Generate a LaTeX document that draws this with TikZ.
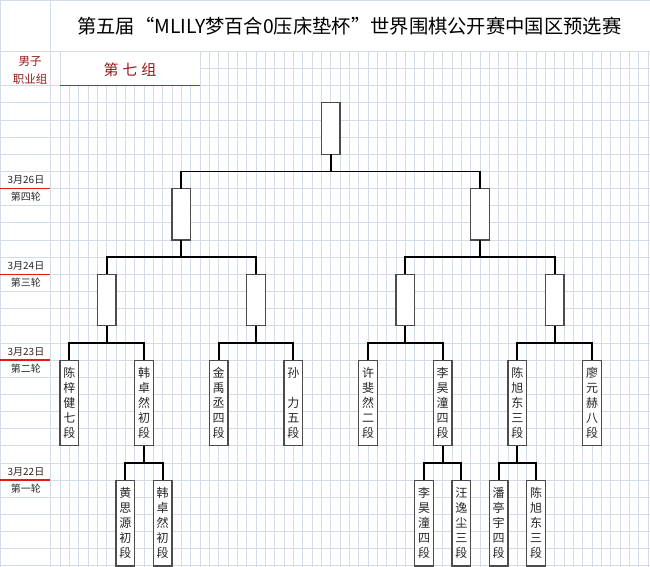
\documentclass[tikz,border=0pt]{standalone}
\usepackage{fontspec}
\newfontfamily\cjk{Noto Sans CJK SC}
\usetikzlibrary{calc}
\definecolor{gridc}{RGB}{212,219,232}
\definecolor{tagred}{RGB}{150,25,25}
\definecolor{rulered}{RGB}{232,22,22}
\tikzset{
  gridline/.style={draw=gridc, line width=0.9pt},
  redrule/.style={draw=rulered, line width=1.5pt},
  joint/.style={draw=black, line width=1.7pt},
  namebox/.style={draw=black!70, line width=1.2pt, fill=white, inner sep=0pt, outer sep=0pt,
    minimum width=18.67pt, minimum height=85.75pt, align=center, text=black!85,
    font=\cjk\fontsize{12}{15}\selectfont},
  winbox/.style={namebox, minimum height=51.45pt},
  datelbl/.style={font=\cjk\fontsize{10}{12}\selectfont, text=black!85},
  tag/.style={font=\cjk\fontsize{11.5}{14}\selectfont, text=tagred}
}

\begin{document}
\begin{tikzpicture}[x=9.3333pt, y=-17.15pt, line join=miter]
    \useasboundingbox (-6.4286,-2.997) rectangle (63.214,30.064);

    % sheet grid
    \foreach \i in {1,...,14} \draw[gridline] (\i,2) -- (\i,30.1);
    \foreach \i in {0,15,16,...,63} \draw[gridline] (\i,0) -- (\i,30.1);
    \draw[gridline] (-1.07,-3) -- (-1.07,30.1);
    \draw[gridline] (-6.38,-3) -- (-6.38,30.1);
    \draw[gridline] (-6.43,-2.95) -- (63.3,-2.95);
    \foreach \j in {0,2,3,...,30} \draw[gridline] (-6.43,\j) -- (63.3,\j);
    \draw[gridline] (15,1) -- (63.3,1);

    % heading
    \node[font=\cjk\fontsize{19.3}{23}\selectfont] (title) at (31,-1.45) {第五届“MLILY梦百合0压床垫杯”世界围棋公开赛中国区预选赛};
    \node[tag] (sex) at (-3.2,0.6) {男子};
    \node[tag] (pro) at (-3.2,1.6) {职业组};
    \node[tag, font=\cjk\fontsize{15}{18}\selectfont] (grp) at (7.5,1.1) {第\hspace{4pt}七\hspace{4pt}组};
    \draw[redrule] (0,2) -- (15,2);

    % rounds
    \foreach \d/\r/\y in {3月26日/第四轮/8, 3月24日/第三轮/13, 3月23日/第二轮/18, 3月22日/第一轮/25}{
        \node[datelbl] (day\y) at (-3.65,\y-0.5) {\d};
        \node[datelbl] (rnd\y) at (-3.65,\y+0.5) {\r};
        \draw[redrule] (-6.43,\y) -- (-1.07,\y);
    }

    % boxes
    \node[winbox] (top) at (29,4.5) {};
    \node[winbox] (r4a) at (13,9.5) {};
    \node[winbox] (r4b) at (45,9.5) {};
    \node[winbox] (r3a) at (5,14.5) {};
    \node[winbox] (r3b) at (21,14.5) {};
    \node[winbox] (r3c) at (37,14.5) {};
    \node[winbox] (r3d) at (53,14.5) {};

    \node[namebox] (r2a) at (1,20.5) {陈\\梓\\健\\七\\段};
    \node[namebox] (r2b) at (9,20.5) {韩\\卓\\然\\初\\段};
    \node[namebox] (r2c) at (17,20.5) {金\\禹\\丞\\四\\段};
    \node[namebox] (r2d) at (25,20.5) {孙\\~\\力\\五\\段};
    \node[namebox] (r2e) at (33,20.5) {许\\斐\\然\\二\\段};
    \node[namebox] (r2f) at (41,20.5) {李\\昊\\潼\\四\\段};
    \node[namebox] (r2g) at (49,20.5) {陈\\旭\\东\\三\\段};
    \node[namebox] (r2h) at (57,20.5) {廖\\元\\赫\\八\\段};

    \node[namebox] (r1a) at (7,27.5) {黄\\思\\源\\初\\段};
    \node[namebox] (r1b) at (11,27.5) {韩\\卓\\然\\初\\段};
    \node[namebox] (r1c) at (39,27.5) {李\\昊\\潼\\四\\段};
    \node[namebox] (r1d) at (43,27.5) {汪\\逸\\尘\\三\\段};
    \node[namebox] (r1e) at (47,27.5) {潘\\亭\\宇\\四\\段};
    \node[namebox] (r1f) at (51,27.5) {陈\\旭\\东\\三\\段};

    % bracket lines
    \foreach \p/\a/\b in {top/r4a/r4b, r4a/r3a/r3b, r4b/r3c/r3d, r3a/r2a/r2b, r3b/r2c/r2d,
        r3c/r2e/r2f, r3d/r2g/r2h, r2b/r1a/r1b, r2f/r1c/r1d, r2g/r1e/r1f}
        \draw[joint] (\p.south) -- ++(0,1) coordinate (j) (\a.north) |- (j) -| (\b.north);

\end{tikzpicture}
\end{document}
